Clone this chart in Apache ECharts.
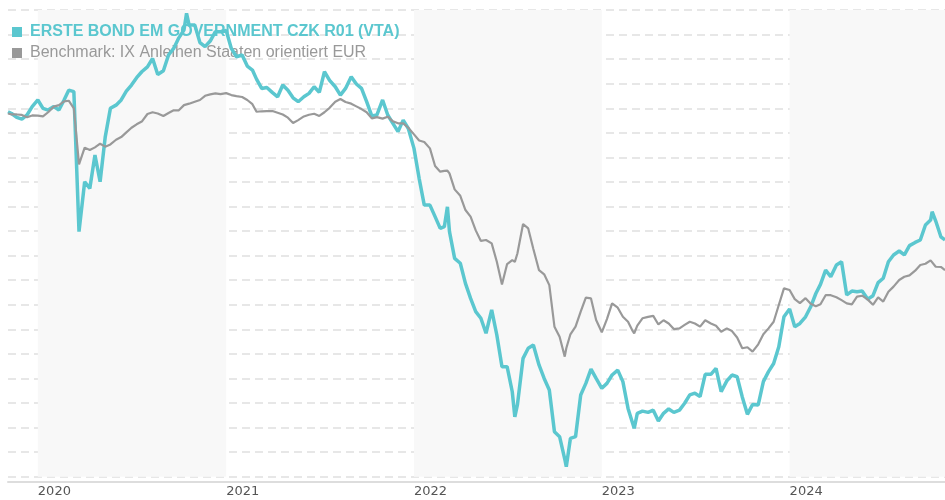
<!DOCTYPE html>
<html>
<head>
<meta charset="utf-8">
<script src="https://cdn.jsdelivr.net/npm/echarts@6/dist/echarts.min.js"></script>
<style>
  html, body { margin: 0; padding: 0; background: #fff; }
  #chart { width: 945px; height: 500px; }
</style>
</head>
<body>
<div id="chart"></div>
<script>
const fundName = 'ERSTE BOND EM GOVERNMENT CZK R01 (VTA)';
const benchName = 'Benchmark: IX Anleihen Staaten orientiert EUR';

const dates = [
  '2019-11-04','2019-11-11','2019-11-21','2019-12-01','2019-12-11','2019-12-21',
  '2020-01-01','2020-01-11','2020-01-21','2020-02-01','2020-02-11','2020-02-21','2020-03-01','2020-03-11','2020-03-21',
  '2020-04-01','2020-04-11','2020-04-21','2020-05-01','2020-05-11','2020-05-21','2020-06-01','2020-06-11','2020-06-21',
  '2020-07-01','2020-07-11','2020-07-21','2020-08-01','2020-08-11','2020-08-21','2020-09-01','2020-09-11','2020-09-21',
  '2020-10-01','2020-10-11','2020-10-16','2020-10-21','2020-11-01','2020-11-11','2020-11-21','2020-12-01','2020-12-11','2020-12-21',
  '2021-01-01','2021-01-11','2021-01-21','2021-02-01','2021-02-11','2021-02-21','2021-03-01','2021-03-11','2021-03-21',
  '2021-04-01','2021-04-11','2021-04-21','2021-05-01','2021-05-11','2021-05-21','2021-06-01','2021-06-11','2021-06-21',
  '2021-07-01','2021-07-11','2021-07-21','2021-08-01','2021-08-11','2021-08-21','2021-09-01','2021-09-11','2021-09-21',
  '2021-10-01','2021-10-11','2021-10-21','2021-11-01','2021-11-11','2021-11-21','2021-12-01','2021-12-11','2021-12-21',
  '2022-01-01','2022-01-11','2022-01-21','2022-02-01','2022-02-11','2022-02-21','2022-03-01','2022-03-07','2022-03-11','2022-03-21',
  '2022-04-01','2022-04-11','2022-04-21','2022-05-01','2022-05-11','2022-05-21','2022-06-01','2022-06-11','2022-06-21',
  '2022-07-01','2022-07-11','2022-07-16','2022-07-21','2022-08-01','2022-08-11','2022-08-21','2022-09-01','2022-09-11','2022-09-21',
  '2022-10-01','2022-10-11','2022-10-21','2022-10-24','2022-11-01','2022-11-11','2022-11-21','2022-12-01','2022-12-11','2022-12-21',
  '2023-01-01','2023-01-11','2023-01-21','2023-02-01','2023-02-11','2023-02-21','2023-03-01','2023-03-05','2023-03-11','2023-03-21',
  '2023-04-01','2023-04-11','2023-04-21','2023-05-01','2023-05-11','2023-05-21','2023-06-01','2023-06-11','2023-06-21',
  '2023-07-01','2023-07-11','2023-07-21','2023-08-01','2023-08-11','2023-08-21','2023-09-01','2023-09-11','2023-09-21',
  '2023-10-01','2023-10-11','2023-10-21','2023-11-01','2023-11-11','2023-11-21','2023-12-01','2023-12-11','2023-12-21',
  '2024-01-01','2024-01-11','2024-01-21','2024-02-01','2024-02-11','2024-02-21','2024-03-01','2024-03-11','2024-03-21',
  '2024-04-01','2024-04-11','2024-04-21','2024-05-01','2024-05-11','2024-05-21','2024-06-01','2024-06-11','2024-06-21',
  '2024-07-01','2024-07-11','2024-07-21','2024-08-01','2024-08-11','2024-08-21','2024-09-01','2024-09-11','2024-09-21',
  '2024-10-01','2024-10-04','2024-10-11','2024-10-21','2024-10-29'
];

const fundValues = [
  14.86,14.79,14.63,14.56,14.73,15.07,
  15.34,15.00,14.93,15.07,14.93,15.34,15.74,15.68,9.98,
  12.01,11.74,13.10,12.01,13.84,15.00,15.13,15.34,15.70,
  15.95,16.25,16.49,16.69,17.03,16.38,16.53,17.17,17.44,
  17.87,18.19,18.87,18.39,18.39,17.68,17.51,17.74,18.12,18.12,
  18.17,17.44,17.10,17.17,16.72,16.56,16.19,15.81,15.85,
  15.64,15.47,15.95,15.74,15.43,15.27,15.47,15.61,15.88,
  15.65,16.49,16.14,15.88,15.54,15.81,16.29,15.99,15.81,
  15.27,14.69,14.73,15.34,14.73,14.39,14.05,14.52,14.18,
  13.37,12.15,11.06,11.06,10.59,10.11,10.18,10.99,9.98,8.89,
  8.69,7.87,7.26,6.72,6.45,5.84,6.79,5.77,4.48,
  4.48,3.46,2.44,2.92,4.82,5.23,5.36,4.55,4.00,3.53,
  1.83,1.63,0.72,0.41,1.56,1.63,3.33,3.80,4.38,4.00,
  3.60,3.80,4.14,4.34,3.87,2.78,2.24,1.97,2.58,2.67,
  2.62,2.71,2.27,2.58,2.76,2.62,2.71,2.99,3.33,
  3.40,3.26,4.17,4.17,4.41,3.46,3.90,4.14,4.07,
  3.25,2.54,2.94,2.92,3.87,4.28,4.61,5.29,6.51,
  6.83,6.11,6.24,6.51,6.92,7.46,7.83,8.41,8.14,
  8.62,8.75,7.40,7.56,7.53,7.56,7.23,7.37,7.90,
  8.08,8.75,9.03,9.19,9.03,9.41,9.54,9.64,10.25,
  10.45,10.79,10.41,9.77,9.64
];

const benchValues = [
  14.79,14.75,14.75,14.73,14.64,14.71,
  14.70,14.67,14.84,15.07,15.13,15.28,15.31,15.00,12.72,
  13.40,13.30,13.41,13.56,13.44,13.53,13.72,13.83,14.02,
  14.21,14.35,14.46,14.77,14.84,14.79,14.69,14.81,14.92,
  14.92,15.13,15.16,15.19,15.27,15.34,15.51,15.57,15.61,15.58,
  15.62,15.54,15.50,15.46,15.34,15.17,14.86,14.88,14.89,
  14.89,14.82,14.75,14.62,14.40,14.52,14.67,14.74,14.78,
  14.69,14.84,15.02,15.27,15.38,15.26,15.19,15.08,14.97,
  14.84,14.59,14.64,14.58,14.66,14.47,14.39,14.39,14.21,
  13.94,13.69,13.63,13.37,12.65,12.42,12.45,12.46,12.35,11.70,
  11.44,10.86,10.59,10.03,9.60,9.64,9.50,8.75,7.83,
  8.66,8.82,8.75,9.09,10.29,10.11,9.27,8.41,8.24,7.80,
  6.11,5.70,4.89,5.23,5.80,6.11,6.72,7.29,7.26,6.38,
  5.88,6.42,7.06,6.88,6.51,6.31,5.97,5.84,6.15,6.45,
  6.51,6.55,6.20,6.37,6.24,6.01,6.04,6.18,6.31,
  6.24,6.11,6.37,6.24,6.15,5.90,6.04,5.93,5.67,
  5.23,5.27,5.09,5.39,5.80,6.04,6.31,6.99,7.67,
  7.60,7.23,7.07,7.27,7.04,6.94,7.02,7.39,7.39,
  7.31,7.19,7.06,7.02,7.33,7.37,7.21,7.00,7.30,
  7.13,7.53,7.74,8.01,8.14,8.20,8.39,8.62,8.67,
  8.81,8.75,8.55,8.54,8.41
];

const shadedPeriods = [
  ['2020-01-01','2021-01-01'],
  ['2022-01-01','2023-01-01'],
  ['2024-01-01','2024-10-29']
];

const fundColor = '#5bc7cf';
const benchColor = '#999999';

const chart = echarts.init(document.getElementById('chart'), null, { renderer: 'canvas' });

const fundData = dates.map((d, i) => [d, fundValues[i]]);
const benchData = dates.map((d, i) => [d, benchValues[i]]);

function yearLabel(v) {
  const d = new Date(v);
  return (d.getMonth() === 0 && d.getDate() === 1) ? String(d.getFullYear()) : '';
}

chart.setOption({
  animation: false,
  backgroundColor: '#ffffff',
  grid: { left: 8, right: 0, top: 10.1, bottom: 23.3, containLabel: false },
  legend: {
    z: 1,
    orient: 'vertical',
    left: 12,
    top: 24,
    padding: 0,
    itemWidth: 10,
    itemHeight: 10,
    itemGap: 5,
    icon: 'rect',
    selectedMode: false,
    data: [
      { name: fundName, textStyle: { color: fundColor, fontWeight: 'bold', fontSize: 16, fontFamily: 'Liberation Sans, Arial, sans-serif', padding: [0,0,0,3] } },
      { name: benchName, textStyle: { color: benchColor, fontSize: 16, fontFamily: 'Liberation Sans, Arial, sans-serif', padding: [0,0,0,3] } }
    ]
  },
  xAxis: {
    type: 'time',
    min: dates[0],
    max: dates[dates.length - 1],
    minInterval: 365 * 24 * 3600 * 1000,
    offset: 5,
    axisLine: { show: true, onZero: false, lineStyle: { color: '#dddddd', width: 2 } },
    axisTick: { show: false },
    splitLine: { show: false },
    axisLabel: {
      formatter: yearLabel,
      align: 'left',
      margin: 3,
      color: '#555555',
      fontSize: 13,
      fontFamily: 'DejaVu Sans, sans-serif',
      hideOverlap: false
    }
  },
  yAxis: {
    type: 'value',
    min: 0,
    max: 19,
    interval: 1,
    axisLine: { show: false },
    axisTick: { show: false },
    axisLabel: { show: false },
    splitLine: { show: true, lineStyle: { color: '#e0e0e0', width: 1.5, type: [8, 5] } }
  },
  series: [
    {
      name: 'bands',
      type: 'line',
      z: 0,
      silent: true,
      data: [],
      markArea: {
        silent: true,
        z: 0,
        itemStyle: { color: '#f8f8f8' },
        data: shadedPeriods.map(p => [{ xAxis: p[0] }, { xAxis: p[1] }])
      }
    },
    {
      name: fundName,
      type: 'line',
      z: 3,
      data: fundData,
      showSymbol: false,
      symbol: 'none',
      lineStyle: { color: fundColor, width: 3.5 },
      itemStyle: { color: fundColor }
    },
    {
      name: benchName,
      type: 'line',
      z: 3,
      data: benchData,
      showSymbol: false,
      symbol: 'none',
      lineStyle: { color: benchColor, width: 2.2 },
      itemStyle: { color: benchColor }
    }
  ]
});
</script>
</body>
</html>
